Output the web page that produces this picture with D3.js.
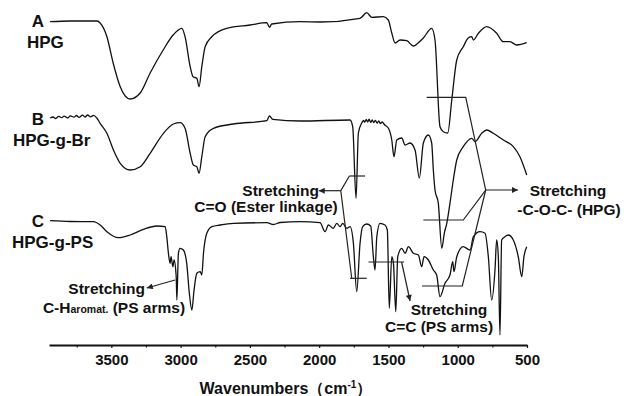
<!DOCTYPE html>
<html>
<head>
<meta charset="utf-8">
<script src="https://cdn.jsdelivr.net/npm/d3@7"></script>
<style>
  body { margin: 0; background: #fff; }
  text { font-family: Arial, "Liberation Sans", sans-serif; font-weight: bold; fill: #111; }
</style>
</head>
<body>
<svg id="chart"></svg>
<script>
// FTIR spectra, [wavenumber (cm-1), offset transmittance (a.u.)]
const hpg = [[3942,323.3],[3797,324],[3602,324],[3581,322],[3532,308.3],[3487,282],[3436,258.3],[3364,246],[3292,252],[3220,272],[3126,295],[3054,310],[2991,316.7],[2968,308.3],[2931,278.3],[2910,268.3],[2883,266.7],[2867,258.3],[2847,278.3],[2823,298.3],[2775,308.3],[2667,316.7],[2499,320],[2378,322.3],[2359,317.7],[2342,321],[2138,323.3],[1994,323],[1705,326.7],[1657,332.3],[1620,327.7],[1537,328.3],[1501,325],[1476,312],[1452,302],[1416,305],[1368,304.3],[1320,299],[1286,302],[1248,307],[1188,316.7],[1164,305],[1128,218.3],[1104,213.3],[1072,212],[1043,245],[1007,285],[960,298.3],[924,307],[899,308.3],[887,305],[851,311.7],[791,318.3],[719,311.7],[671,303.3],[623,303.3],[574,300],[502,302.3]];

const hpgBr = [[3942,227],[3920,228],[3903,226.5],[3880,228.6],[3858,227.3],[3841,228.9],[3815,227],[3796,229.2],[3770,227.8],[3752,229.5],[3733,227.6],[3708,229.8],[3690,228],[3671,230],[3650,228.2],[3628,229.6],[3605,227],[3581,221.7],[3532,211.7],[3485,195],[3436,181.7],[3364,175],[3292,178.3],[3220,191.7],[3124,211.7],[3052,221],[3004,222.3],[2968,216.7],[2931,191.7],[2908,180],[2883,178.3],[2867,171.7],[2847,188.3],[2823,208.3],[2763,216.7],[2619,221],[2378,224.3],[2359,229],[2335,225.7],[2138,224],[1777,225],[1758,218.3],[1734,146.7],[1717,212],[1693,222],[1680,224.5],[1671,222.8],[1660,225.5],[1650,223],[1640,225.8],[1628,222.6],[1617,225],[1606,222.4],[1594,224.6],[1582,221.8],[1570,224.2],[1558,221.5],[1545,223],[1530,220.5],[1501,217],[1476,205],[1460,188.3],[1440,205],[1404,207],[1380,200],[1344,202],[1308,195],[1277,167],[1248,202],[1212,210],[1188,202],[1176,175],[1164,155],[1140,141.7],[1115,96.7],[1097,111.7],[1079,121.7],[1056,141.7],[1032,165],[1007,185],[960,198.3],[899,206.7],[875,203.3],[827,211.7],[791,215],[743,211.7],[671,205],[599,198.3],[551,188.3],[502,170]];

const hpgPs = [[3942,124.3],[3797,123.5],[3629,123.3],[3581,120],[3532,113.3],[3449,107.3],[3364,110],[3268,115.7],[3172,119],[3112,118.3],[3100,108.3],[3088,91.7],[3076,81.7],[3069,88.3],[3056,78.3],[3047,85],[3032,68.3],[3027,45],[3016,91.7],[3004,96.7],[2980,95],[2956,81.7],[2937,51.7],[2919,35],[2903,55],[2883,71.7],[2859,73.3],[2847,70],[2835,91.7],[2811,111.7],[2775,118.3],[2715,120],[2619,121.7],[2378,122.3],[2330,120.5],[2282,122.5],[2138,123.3],[1994,122.3],[1957,113.3],[1934,120],[1898,116.7],[1873,121.7],[1849,118.3],[1830,121.7],[1801,116.7],[1777,118.3],[1753,101.7],[1729,53.3],[1705,101.7],[1686,118.3],[1657,121],[1628,119],[1609,88.3],[1597,75],[1584,108.3],[1561,121.7],[1525,120],[1508,115],[1494,36.7],[1476,88.3],[1464,81.7],[1447,33.3],[1433,88.3],[1404,96.7],[1380,91.7],[1356,98.3],[1320,91.7],[1284,90],[1260,78.3],[1243,88.3],[1212,85],[1176,75],[1152,70],[1128,48.3],[1092,61.7],[1056,70],[1036,83.3],[1027,73.3],[1007,88.3],[960,98.3],[911,95],[887,108.3],[839,113.3],[803,111.7],[779,88.3],[755,45],[731,75],[719,105],[707,88.3],[695,10],[683,105],[659,108.3],[635,110],[599,105],[563,88.3],[538,68.3],[522,88.3],[502,98.3]];

const spectra = [hpg, hpgBr, hpgPs];
const seriesLetters = ["A", "B", "C"];
const seriesNames = ["HPG", "HPG-g-Br", "HPG-g-PS"];

const majorTicks = [3500, 3000, 2500, 2000, 1500, 1000, 500];
const minorTicks = [3750, 3250, 2750, 2250, 1750, 1250, 750];

// annotation leader lines, in data units
const leaderLines = [
  [[1782,169],[1669,169]],
  [[1782,169],[1844,154.3],[1765,66.7]],
  [[1777,66.7],[1657,66.7]],
  [[1224,247.7],[942,247.7],[798,155],[960,125],[1248,125]],
  [[798,155],[967,59],[1258,59]],
  [[1644,83],[1387,83]]
];
const arrowLines = [
  [[1844,154.3],[2003,154.3]],
  [[798,155],[565,155]],
  [[1405,83],[1344,44]],
  [[3040,65],[3244,57]]
];

const width = 624, height = 396;
const svg = d3.select("#chart").attr("width", width).attr("height", height);

const x = d3.scaleLinear().domain([3950, 500]).range([49, 527]);
const y = d3.scaleLinear().domain([0, 330]).range([345, 15]);

const line = d3.line()
  .x(d => x(d[0]))
  .y(d => y(d[1]))
  .curve(d3.curveMonotoneX);

svg.append("defs").append("marker")
  .attr("id", "arrow")
  .attr("viewBox", "0 0 10 10")
  .attr("refX", 10).attr("refY", 5)
  .attr("markerWidth", 8).attr("markerHeight", 6)
  .attr("markerUnits", "userSpaceOnUse")
  .attr("orient", "auto")
  .append("path").attr("d", "M0,0L10,5L0,10z").attr("fill", "#222");

// spectra
svg.append("g").selectAll("path")
  .data(spectra)
  .enter().append("path")
    .attr("d", line)
    .attr("fill", "none")
    .attr("stroke", "#111")
    .attr("stroke-width", 1.3)
    .attr("stroke-linejoin", "round");

// x axis
const xAxis = svg.append("g")
  .attr("transform", "translate(0,345)")
  .call(d3.axisBottom(x).tickValues(majorTicks).tickSize(3).tickSizeOuter(0).tickPadding(6).tickFormat(d3.format("d")));
xAxis.select(".domain").attr("stroke", "#111").attr("stroke-width", 2);
xAxis.selectAll(".tick line").attr("stroke", "#111").attr("stroke-width", 1.2);
xAxis.selectAll("text").attr("font-size", 15).attr("font-family", null).attr("fill", "#111");

svg.append("g")
  .attr("transform", "translate(0,345)")
  .call(d3.axisBottom(x).tickValues(minorTicks).tickSize(2.5).tickFormat(""))
  .call(g => g.select(".domain").remove())
  .selectAll(".tick line").attr("stroke", "#111").attr("stroke-width", 1.2);

const title = svg.append("text")
  .attr("x", 286).attr("y", 394)
  .attr("text-anchor", "middle")
  .attr("font-size", 16);
title.append("tspan").text("Wavenumbers\uFF08cm");
title.append("tspan").attr("dy", -6).attr("font-size", 10).text("-1");
title.append("tspan").attr("dy", 6).text("\uFF09");

// series labels
const letterBase = [27, 125, 227];
const nameX = [27, 13, 12];
seriesLetters.forEach((s, i) => {
  svg.append("text").attr("x", 44).attr("y", letterBase[i])
    .attr("text-anchor", "end").attr("font-size", 17).text(s);
  svg.append("text").attr("x", nameX[i]).attr("y", letterBase[i] + 21)
    .attr("font-size", 17).text(seriesNames[i]);
});

// annotations
const plain = d3.line().x(d => x(d[0])).y(d => y(d[1]));
svg.append("g").selectAll("path")
  .data(leaderLines)
  .enter().append("path")
    .attr("d", plain)
    .attr("fill", "none").attr("stroke", "#222").attr("stroke-width", 1.2);
svg.append("g").selectAll("path")
  .data(arrowLines)
  .enter().append("path")
    .attr("d", plain)
    .attr("fill", "none").attr("stroke", "#222").attr("stroke-width", 1.2)
    .attr("marker-end", "url(#arrow)");

function label(tx, ty, anchor, str) {
  return svg.append("text").attr("x", tx).attr("y", ty)
    .attr("text-anchor", anchor).attr("font-size", 15.5).text(str);
}
label(319, 196, "end", "Stretching");
label(266, 212, "middle", "C=O (Ester linkage)");
label(568, 196, "middle", "Stretching");
label(569, 215, "middle", "-C-O-C- (HPG)");
label(449, 315, "middle", "Stretching");
label(439, 332, "middle", "C=C (PS arms)");
label(145, 294, "end", "Stretching");
const ch = svg.append("text").attr("x", 114).attr("y", 313)
  .attr("text-anchor", "middle").attr("font-size", 15.5);
ch.append("tspan").text("C-H");
ch.append("tspan").attr("font-size", 10.5).text("aromat.");
ch.append("tspan").text(" (PS arms)");
</script>
</body>
</html>
